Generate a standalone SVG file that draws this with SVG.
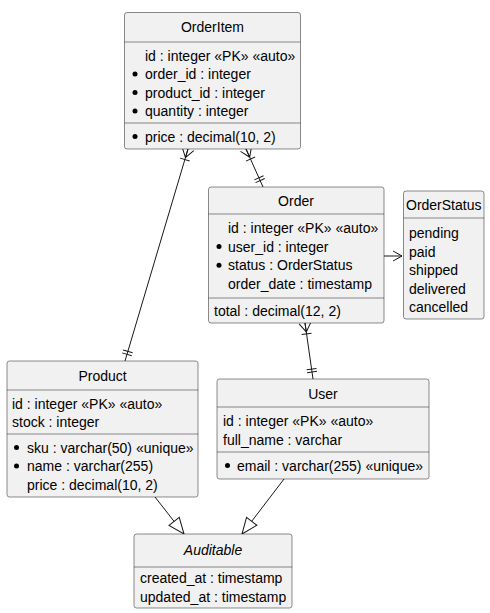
<svg xmlns="http://www.w3.org/2000/svg" width="490" height="613" viewBox="0 0 490 613">
<style>
.box{fill:#F1F1F1;stroke:#181818;stroke-width:0.5}
.sep{stroke:#181818;stroke-width:0.5}
text{font-family:"Liberation Sans",Arial,sans-serif;font-size:14px;fill:#000}
.t{text-anchor:middle}
.i{font-style:italic}
.b{fill:#000}
.c{fill:none;stroke:#181818;stroke-width:1}
</style>
<defs>
<marker id="crow" markerUnits="userSpaceOnUse" orient="auto" refX="0" refY="0" markerWidth="1" markerHeight="1" overflow="visible">
<path d="M0,-6 L9,0 M0,0 L9,0 M0,6 L9,0 M11,-5 L11,5" fill="none" stroke="#181818" stroke-width="1"/>
</marker>
<marker id="dbar" markerUnits="userSpaceOnUse" orient="auto" refX="0" refY="0" markerWidth="1" markerHeight="1" overflow="visible">
<path d="M-7,-5 L-7,5 M-10,-5 L-10,5" fill="none" stroke="#181818" stroke-width="1"/>
</marker>
<marker id="tri" markerUnits="userSpaceOnUse" orient="auto" refX="0" refY="0" markerWidth="1" markerHeight="1" overflow="visible">
<path d="M0,0 L-16,-6.5 L-16,6.5 Z" fill="#FFFFFF" stroke="#181818" stroke-width="1"/>
</marker>
<marker id="open" markerUnits="userSpaceOnUse" orient="auto" refX="0" refY="0" markerWidth="1" markerHeight="1" overflow="visible">
<path d="M-9,-5 L0,0 L-9,5" fill="none" stroke="#181818" stroke-width="1"/>
</marker>
</defs>

<g id="connectors">
<path class="c" d="M188,149 L125,361" marker-start="url(#crow)" marker-end="url(#dbar)"/>
<path class="c" d="M246,149 L263,187" marker-start="url(#crow)" marker-end="url(#dbar)"/>
<path class="c" d="M305,323 L313,379" marker-start="url(#crow)" marker-end="url(#dbar)"/>
<path class="c" d="M384,256 L402,256" marker-end="url(#open)"/>
<path class="c" d="M155,497 L184,534" marker-end="url(#tri)"/>
<path class="c" d="M284,479 L242,534" marker-end="url(#tri)"/>
</g>

<g id="OrderItem">
<rect class="box" x="124.5" y="12.5" width="176" height="136.5" rx="2.5"/>
<line class="sep" x1="124.5" y1="42" x2="300.5" y2="42"/>
<line class="sep" x1="124.5" y1="123" x2="300.5" y2="123"/>
<text class="t" x="212.5" y="32">OrderItem</text>
<text x="145" y="60.5">id : integer «PK» «auto»</text>
<circle class="b" cx="135" cy="74" r="2.5"/><text x="145" y="79">order_id : integer</text>
<circle class="b" cx="135" cy="92.5" r="2.5"/><text x="145" y="97.5">product_id : integer</text>
<circle class="b" cx="135" cy="111" r="2.5"/><text x="145" y="116">quantity : integer</text>
<circle class="b" cx="135" cy="136.5" r="2.5"/><text x="145" y="141.5">price : decimal(10, 2)</text>
</g>

<g id="Order">
<rect class="box" x="208.5" y="187" width="175.5" height="136" rx="2.5"/>
<line class="sep" x1="208.5" y1="214" x2="384" y2="214"/>
<line class="sep" x1="208.5" y1="298" x2="384" y2="298"/>
<text class="t" x="296" y="205.5">Order</text>
<text x="228" y="233">id : integer «PK» «auto»</text>
<circle class="b" cx="219" cy="246.6" r="2.5"/><text x="228" y="251.6">user_id : integer</text>
<circle class="b" cx="219" cy="265.2" r="2.5"/><text x="228" y="270.2">status : OrderStatus</text>
<text x="228" y="288.8">order_date : timestamp</text>
<text x="214" y="316">total : decimal(12, 2)</text>
</g>

<g id="OrderStatus">
<rect class="box" x="403.5" y="191" width="80.5" height="128" rx="2.5"/>
<line class="sep" x1="403.5" y1="218" x2="484" y2="218"/>
<text class="t" x="443.75" y="209.5">OrderStatus</text>
<text x="409" y="238">pending</text>
<text x="409" y="256.5">paid</text>
<text x="409" y="275">shipped</text>
<text x="409" y="293.5">delivered</text>
<text x="409" y="312">cancelled</text>
</g>

<g id="Product">
<rect class="box" x="7" y="361" width="191" height="136" rx="2.5"/>
<line class="sep" x1="7" y1="390" x2="198" y2="390"/>
<line class="sep" x1="7" y1="434" x2="198" y2="434"/>
<text class="t" x="102.5" y="380.5">Product</text>
<text x="12" y="408.5">id : integer «PK» «auto»</text>
<text x="12" y="427">stock : integer</text>
<circle class="b" cx="16.5" cy="447.5" r="2.5"/><text x="27" y="452.5">sku : varchar(50) «unique»</text>
<circle class="b" cx="16.5" cy="466" r="2.5"/><text x="27" y="471">name : varchar(255)</text>
<text x="27" y="489.5">price : decimal(10, 2)</text>
</g>

<g id="User">
<rect class="box" x="217" y="379" width="212" height="100" rx="2.5"/>
<line class="sep" x1="217" y1="407" x2="429" y2="407"/>
<line class="sep" x1="217" y1="452" x2="429" y2="452"/>
<text class="t" x="323" y="398.5">User</text>
<text x="223" y="426">id : integer «PK» «auto»</text>
<text x="223" y="444.5">full_name : varchar</text>
<circle class="b" cx="227.5" cy="465.5" r="2.5"/><text x="237" y="470.5">email : varchar(255) «unique»</text>
</g>

<g id="Auditable">
<rect class="box" x="134" y="534" width="158" height="74" rx="2.5"/>
<line class="sep" x1="134" y1="567" x2="292" y2="567"/>
<text class="t i" x="213" y="555">Auditable</text>
<text x="140" y="583">created_at : timestamp</text>
<text x="140" y="601.5">updated_at : timestamp</text>
</g>
</svg>
